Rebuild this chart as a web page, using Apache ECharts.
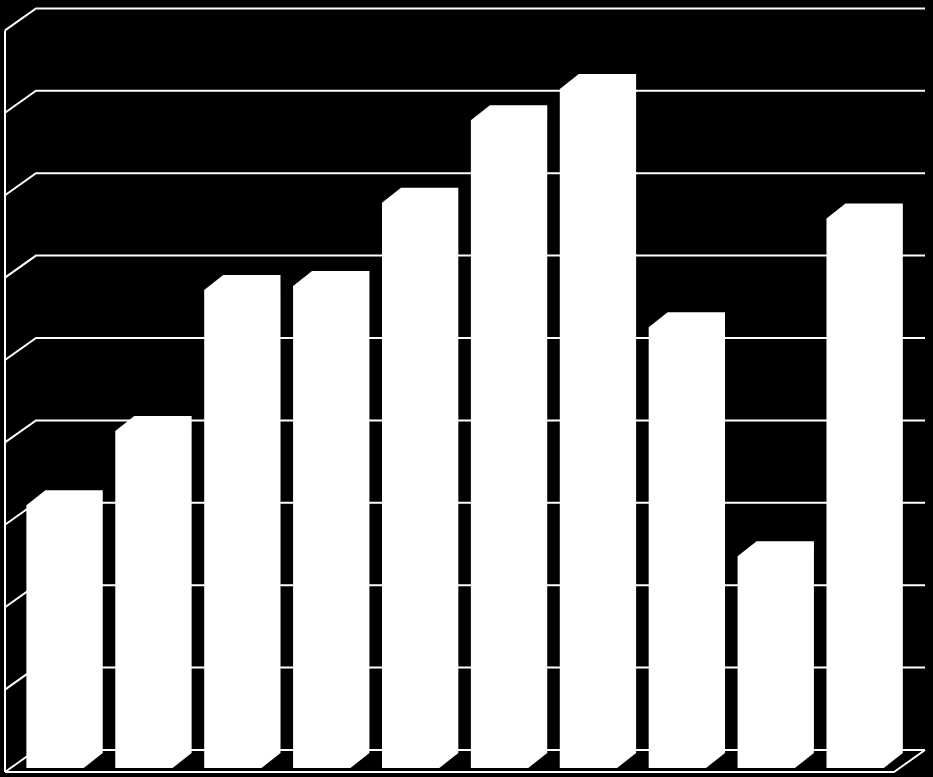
<!DOCTYPE html>
<html>
<head>
<meta charset="utf-8">
<script src="https://cdn.jsdelivr.net/npm/echarts@6/dist/echarts.min.js"></script>
<style>
html,body{margin:0;padding:0;background:#000;}
#c{width:933px;height:777px;}
</style>
</head>
<body>
<div id="c"></div>
<script>
// ---- data ----
const categories = ['1', '2', '3', '4', '5', '6', '7', '8', '9', '10'];
const values = [3.19, 4.09, 5.80, 5.85, 6.86, 7.86, 8.24, 5.35, 2.57, 6.67];
const tickValues = [0, 1, 2, 3, 4, 5, 6, 7, 8, 9];

// ---- pseudo-3D depth settings ----
const wallFront = [-5.6, 4];   // box front plane offset from bar-front plane
const wallBack = [25.4, -18];  // back wall offset from bar-front plane
const barDepth = [19, -15];    // bar depth offset
const lineW = 2;

const chart = echarts.init(document.getElementById('c'), null, {renderer: 'canvas'});

chart.setOption({
  backgroundColor: '#000',
  animation: false,
  grid: {left: 10.6, right: 33.4, top: 26.4, bottom: 9, containLabel: false},
  xAxis: {
    type: 'category', data: categories, show: false,
    axisLine: {show: false}, axisTick: {show: false}, axisLabel: {show: false}
  },
  yAxis: {
    type: 'value', min: 0, max: 9, interval: 1, show: false,
    splitLine: {show: false}
  },
  series: [
    {
      type: 'custom',
      z: 1,
      silent: true,
      data: tickValues.map(v => [0, v]),
      renderItem: function (params, api) {
        const cs = params.coordSys;
        const v = api.value(1);
        const y = api.coord([0, v])[1];
        const xl = cs.x, xr = cs.x + cs.width;
        const children = [];
        const style = {stroke: '#fff', lineWidth: lineW, fill: null};
        // back wall gridline with left side-wall slant
        children.push({
          type: 'polyline',
          shape: {points: [
            [xl + wallFront[0], y + wallFront[1]],
            [xl + wallBack[0], y + wallBack[1]],
            [xr + wallBack[0], y + wallBack[1]]
          ]},
          style: style
        });
        if (v === 0) {
          const yTop = cs.y;
          // front floor edge + right slant
          children.push({
            type: 'polyline',
            shape: {points: [
              [xl + wallFront[0], y + wallFront[1]],
              [xr + wallFront[0], y + wallFront[1]],
              [xr + wallBack[0], y + wallBack[1]]
            ]},
            style: style
          });
          // left front vertical edge
          children.push({
            type: 'line',
            shape: {
              x1: xl + wallFront[0], y1: yTop + wallFront[1],
              x2: xl + wallFront[0], y2: y + wallFront[1]
            },
            style: style
          });
        }
        return {type: 'group', children: children};
      }
    },
    {
      type: 'custom',
      z: 5,
      data: values.map((v, i) => [i, v]),
      renderItem: function (params, api) {
        const idx = api.value(0);
        const top = api.coord([idx, api.value(1)]);
        const bot = api.coord([idx, 0]);
        const bw = api.size([1, 0])[0] * 0.645;
        const x0 = top[0] - bw / 2, x1 = top[0] + bw / 2;
        const yt = top[1], yb = bot[1];
        const dx = barDepth[0], dy = barDepth[1];
        return {
          type: 'polygon',
          shape: {points: [
            [x0, yb], [x0, yt], [x0 + dx, yt + dy],
            [x1 + dx, yt + dy], [x1 + dx, yb + dy], [x1, yb]
          ]},
          style: {fill: '#fff', stroke: null}
        };
      }
    }
  ]
});
</script>
</body>
</html>
